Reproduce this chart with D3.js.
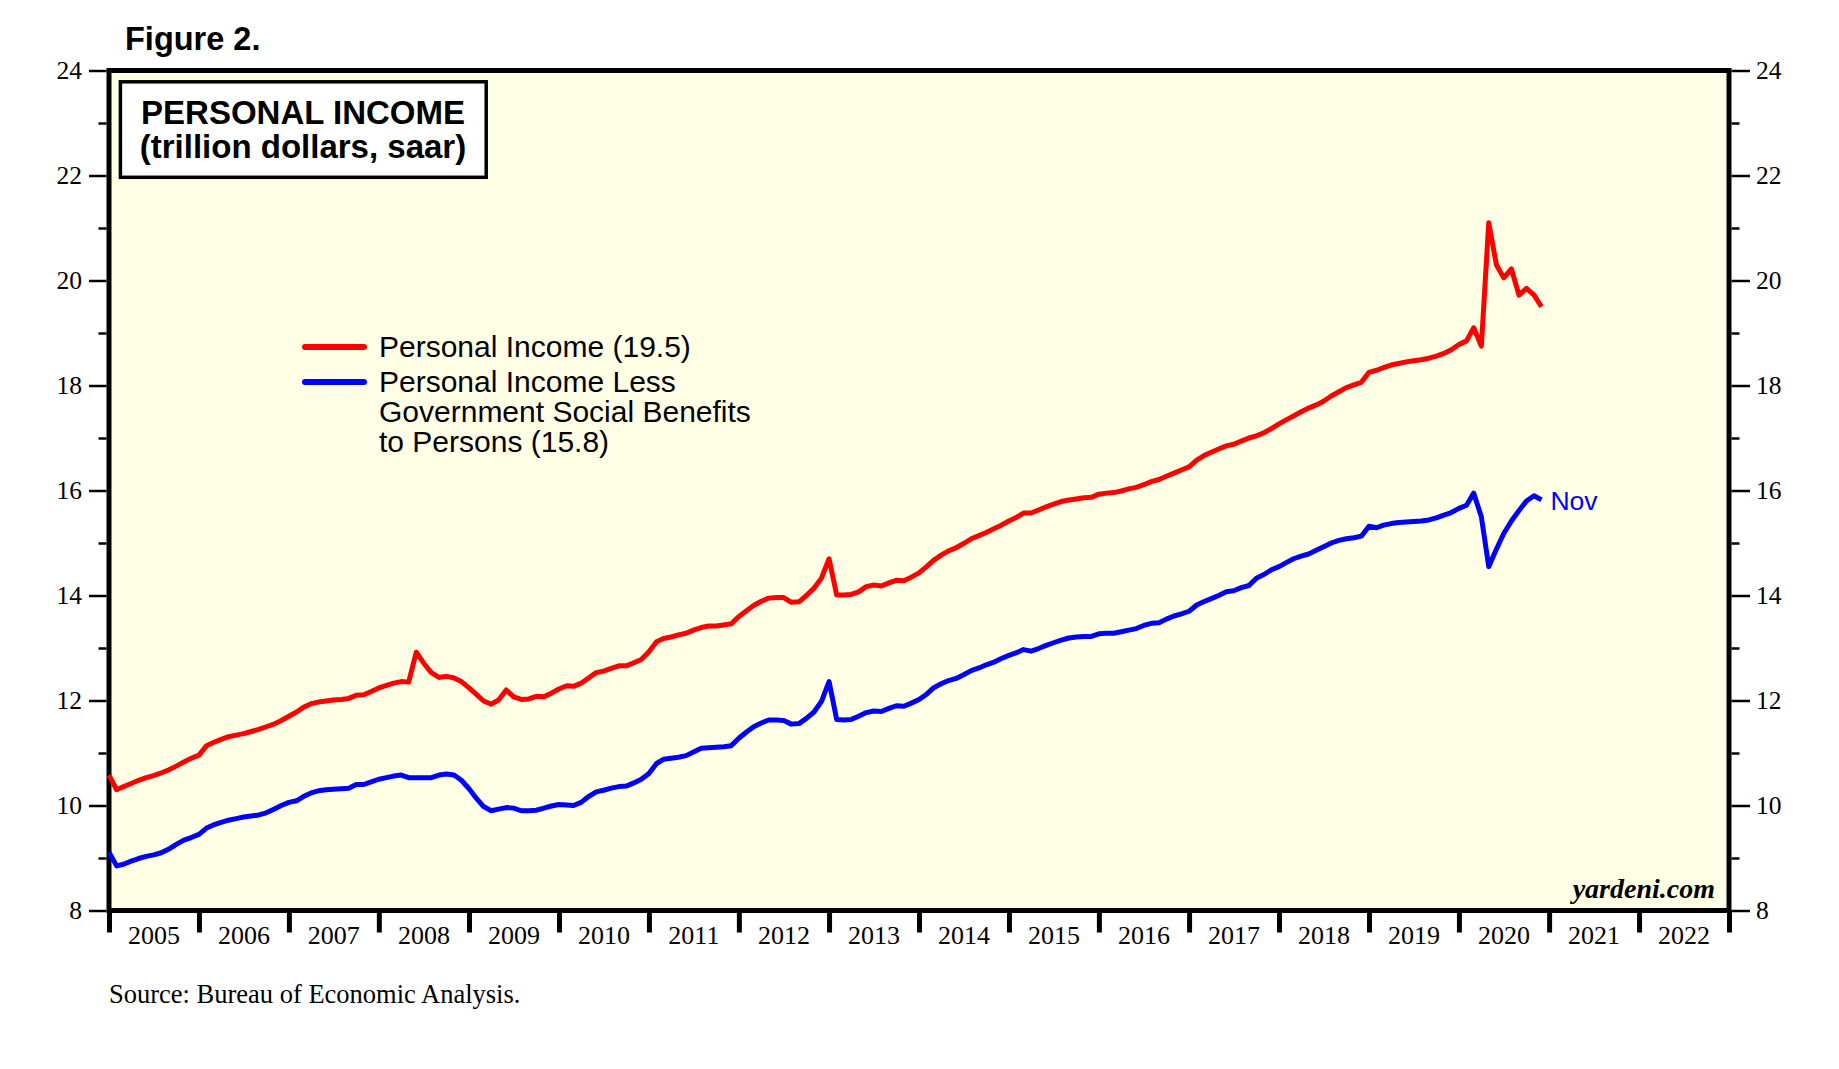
<!DOCTYPE html>
<html>
<head>
<meta charset="utf-8">
<script src="https://cdn.jsdelivr.net/npm/d3@7"></script>
<style>
body { margin: 0; background: #fff; }
svg { display: block; }
.sans { font-family: "Liberation Sans", Arial, sans-serif; }
.serif { font-family: "Liberation Serif", "Times New Roman", serif; }
</style>
</head>
<body>
<div id="chart"></div>
<script>
// monthly values, Dec 2004 .. Nov 2020 (trillion dollars, saar)
var firstMonth = new Date(2004, 11, 1);

var personalIncome = [
    10.58, 10.30, 10.36, 10.42, 10.48, 10.53, 10.57, 10.62, 10.68, 10.75, 10.83, 10.90, 10.96,
    11.14, 11.20, 11.26, 11.31, 11.34, 11.37, 11.41, 11.45, 11.50, 11.55, 11.62, 11.70,
    11.78, 11.87, 11.94, 11.97, 11.99, 12.01, 12.02, 12.04, 12.10, 12.11, 12.17, 12.24,
    12.29, 12.33, 12.36, 12.35, 12.92, 12.71, 12.53, 12.44, 12.46, 12.43, 12.36, 12.24,
    12.11, 11.99, 11.93, 12.01, 12.20, 12.07, 12.02, 12.03, 12.08, 12.07, 12.14, 12.22,
    12.28, 12.27, 12.33, 12.43, 12.53, 12.56, 12.61, 12.66, 12.66, 12.72, 12.78, 12.93,
    13.12, 13.18, 13.21, 13.25, 13.28, 13.34, 13.39, 13.42, 13.42, 13.44, 13.46, 13.60,
    13.71, 13.81, 13.89, 13.95, 13.96, 13.96, 13.87, 13.88, 14.00, 14.14, 14.33, 14.70,
    14.01, 14.01, 14.02, 14.07, 14.17, 14.20, 14.18, 14.24, 14.29, 14.28, 14.35, 14.43,
    14.55, 14.67, 14.77, 14.85, 14.91, 14.99, 15.08, 15.14, 15.20, 15.27, 15.34, 15.42,
    15.49, 15.57, 15.57, 15.63, 15.69, 15.74, 15.79, 15.82, 15.84, 15.86, 15.87, 15.93,
    15.95, 15.96, 15.99, 16.03, 16.06, 16.11, 16.17, 16.21, 16.27, 16.33, 16.39, 16.45,
    16.58, 16.66, 16.73, 16.79, 16.85, 16.88, 16.94, 17.00, 17.04, 17.10, 17.18, 17.27,
    17.35, 17.42, 17.50, 17.57, 17.63, 17.70, 17.80, 17.88, 17.96, 18.01, 18.06, 18.25,
    18.29, 18.34, 18.39, 18.42, 18.45, 18.47, 18.49, 18.52, 18.56, 18.61, 18.68, 18.78,
    18.85, 19.10, 18.75, 21.10, 20.30, 20.05, 20.22, 19.72, 19.85, 19.72, 19.50
];

var lessSocialBenefits = [
    9.11, 8.85, 8.88, 8.94, 8.99, 9.03, 9.06, 9.10, 9.17, 9.26, 9.34, 9.39, 9.45,
    9.57, 9.63, 9.68, 9.72, 9.75, 9.78, 9.80, 9.82, 9.86, 9.93, 10.00, 10.06,
    10.09, 10.17, 10.24, 10.28, 10.30, 10.31, 10.32, 10.33, 10.40, 10.40, 10.45, 10.50,
    10.53, 10.56, 10.58, 10.53, 10.53, 10.53, 10.53, 10.58, 10.60, 10.58, 10.48, 10.32,
    10.13, 9.98, 9.90, 9.93, 9.96, 9.95, 9.90, 9.90, 9.91, 9.95, 9.99, 10.02,
    10.01, 10.00, 10.06, 10.17, 10.26, 10.29, 10.33, 10.36, 10.37, 10.43, 10.50, 10.61,
    10.80, 10.88, 10.90, 10.92, 10.95, 11.02, 11.09, 11.10, 11.11, 11.12, 11.14, 11.28,
    11.40, 11.50, 11.57, 11.63, 11.63, 11.62, 11.55, 11.56, 11.66, 11.78, 11.98, 12.36,
    11.64, 11.63, 11.64, 11.70, 11.77, 11.80, 11.79, 11.85, 11.90, 11.89, 11.95, 12.02,
    12.12, 12.24, 12.32, 12.38, 12.42, 12.49, 12.57, 12.62, 12.68, 12.73, 12.80, 12.86,
    12.91, 12.97, 12.94, 12.99, 13.05, 13.10, 13.15, 13.19, 13.21, 13.22, 13.22, 13.27,
    13.28, 13.28, 13.31, 13.34, 13.37, 13.43, 13.47, 13.48, 13.55, 13.61, 13.65, 13.70,
    13.82, 13.88, 13.94, 14.00, 14.07, 14.09, 14.15, 14.19, 14.33, 14.40, 14.49, 14.55,
    14.63, 14.70, 14.75, 14.79, 14.86, 14.93, 15.00, 15.05, 15.08, 15.10, 15.13, 15.32,
    15.29, 15.34, 15.37, 15.39, 15.40, 15.41, 15.42, 15.44, 15.48, 15.53, 15.58, 15.66,
    15.72, 15.95, 15.50, 14.55, 14.88, 15.18, 15.42, 15.62, 15.80, 15.90, 15.82
];

var yMajorTicks = [8, 10, 12, 14, 16, 18, 20, 22, 24];
var yMinorTicks = [9, 11, 13, 15, 17, 19, 21, 23];
var yearLabels = [2005, 2006, 2007, 2008, 2009, 2010, 2011, 2012, 2013,
                  2014, 2015, 2016, 2017, 2018, 2019, 2020, 2021, 2022];

var legendItems = [
    {color: "#ff0000", lines: ["Personal Income (19.5)"]},
    {color: "#0000ff", lines: ["Personal Income Less", "Government Social Benefits", "to Persons (15.8)"]}
];

// plot frame (note: "top" is taken by window.top)
var pLeft = 109, pRight = 1729, pTop = 70.5, pBottom = 910.5;

var svg = d3.select("#chart")
    .append("svg")
    .attr("width", 1839)
    .attr("height", 1069);

var x = d3.scaleTime()
    .domain([new Date(2005, 0, 1), new Date(2023, 0, 1)])
    .range([pLeft, pRight]);

var y = d3.scaleLinear()
    .domain([8, 24])
    .range([pBottom, pTop]);

// background of plot
svg.append("rect")
    .attr("x", pLeft).attr("y", pTop)
    .attr("width", pRight - pLeft).attr("height", pBottom - pTop)
    .attr("fill", "#ffffe6");

//y axes (major + minor, both sides)
function styleAxis(g, w){
    g.select(".domain").remove();
    g.selectAll(".tick line").attr("stroke", "#000").attr("stroke-width", w);
    g.selectAll(".tick text")
        .attr("class", "serif")
        .attr("font-size", "25.5px")
        .attr("fill", "#000");
}

svg.append("g")
    .attr("transform", "translate(" + (pLeft - 2.5) + ",0)")
    .call(d3.axisLeft(y).tickValues(yMajorTicks).tickSize(17.5).tickPadding(7).tickFormat(d3.format("d")))
    .call(styleAxis, 2.5);
svg.append("g")
    .attr("transform", "translate(" + (pLeft - 2.5) + ",0)")
    .call(d3.axisLeft(y).tickValues(yMinorTicks).tickSize(8).tickFormat(""))
    .call(styleAxis, 2.5);
svg.append("g")
    .attr("transform", "translate(" + (pRight + 2.5) + ",0)")
    .call(d3.axisRight(y).tickValues(yMajorTicks).tickSize(18.5).tickPadding(6).tickFormat(d3.format("d")))
    .call(styleAxis, 2.5);
svg.append("g")
    .attr("transform", "translate(" + (pRight + 2.5) + ",0)")
    .call(d3.axisRight(y).tickValues(yMinorTicks).tickSize(8).tickFormat(""))
    .call(styleAxis, 2.5);

//x axis: year boundaries as thick ticks, labels centred in each year
var yearStarts = yearLabels.map(function(yr){ return new Date(yr, 0, 1); });
yearStarts.push(new Date(2023, 0, 1));

svg.append("g")
    .attr("transform", "translate(0," + pBottom + ")")
    .call(d3.axisBottom(x).tickValues(yearStarts).tickSize(22).tickFormat(""))
    .call(styleAxis, 5);

svg.append("g")
    .selectAll("text")
    .data(yearLabels)
    .enter()
    .append("text")
    .attr("class", "serif")
    .attr("x", function(d){ return (x(new Date(d, 0, 1)) + x(new Date(d + 1, 0, 1))) / 2; })
    .attr("y", 944)
    .attr("text-anchor", "middle")
    .attr("font-size", "26px")
    .text(function(d){ return d; });

// frame
svg.append("rect")
    .attr("x", pLeft).attr("y", pTop)
    .attr("width", pRight - pLeft).attr("height", pBottom - pTop)
    .attr("fill", "none")
    .attr("stroke", "#000")
    .attr("stroke-width", 5);

// lines: each month's value is plotted at the end of that month
function monthEnd(i){
    return d3.timeMonth.offset(firstMonth, i + 1);
}

var line = d3.line()
    .x(function(d, i){ return x(monthEnd(i)); })
    .y(function(d){ return y(d); });

svg.append("path")
    .datum(personalIncome)
    .attr("d", line)
    .attr("fill", "none")
    .attr("stroke", "#ff0000")
    .attr("stroke-width", 5)
    .attr("stroke-linejoin", "round");

svg.append("path")
    .datum(lessSocialBenefits)
    .attr("d", line)
    .attr("fill", "none")
    .attr("stroke", "#0000ff")
    .attr("stroke-width", 5)
    .attr("stroke-linejoin", "round");

// "Nov" label at the end of the blue line
var lastIdx = lessSocialBenefits.length - 1;
svg.append("text")
    .attr("class", "sans")
    .attr("x", x(monthEnd(lastIdx)) + 9)
    .attr("y", y(lessSocialBenefits[lastIdx]) + 10)
    .attr("font-size", "26.5px")
    .attr("fill", "#0000ff")
    .text("Nov");

// title box
svg.append("rect")
    .attr("x", 120.4).attr("y", 81.8)
    .attr("width", 365.8).attr("height", 95.5)
    .attr("fill", "#fff")
    .attr("stroke", "#000")
    .attr("stroke-width", 3.5);

svg.append("text")
    .attr("class", "sans")
    .attr("x", 303).attr("y", 124)
    .attr("text-anchor", "middle")
    .attr("font-size", "33px")
    .attr("font-weight", "bold")
    .text("PERSONAL INCOME");

svg.append("text")
    .attr("class", "sans")
    .attr("x", 303).attr("y", 158)
    .attr("text-anchor", "middle")
    .attr("font-size", "33px")
    .attr("font-weight", "bold")
    .text("(trillion dollars, saar)");

// legend
var legendTop = [347, 382];
legendItems.forEach(function(item, k){
    var ly = legendTop[k];
    svg.append("line")
        .attr("x1", 305).attr("x2", 364)
        .attr("y1", ly).attr("y2", ly)
        .attr("stroke", item.color)
        .attr("stroke-width", 6)
        .attr("stroke-linecap", "round");
    item.lines.forEach(function(t, j){
        svg.append("text")
            .attr("class", "sans")
            .attr("x", 379)
            .attr("y", ly + 10 + j * 30)
            .attr("font-size", "30px")
            .text(t);
    });
});

svg.append("text")
    .attr("class", "sans")
    .attr("x", 125).attr("y", 50)
    .attr("font-size", "32.5px")
    .attr("font-weight", "bold")
    .text("Figure 2.");

svg.append("text")
    .attr("class", "serif")
    .attr("x", 1715).attr("y", 898)
    .attr("text-anchor", "end")
    .attr("font-size", "28px")
    .attr("font-weight", "bold")
    .attr("font-style", "italic")
    .text("yardeni.com");

svg.append("text")
    .attr("class", "serif")
    .attr("x", 109).attr("y", 1003)
    .attr("font-size", "26.5px")
    .text("Source: Bureau of Economic Analysis.");
</script>
</body>
</html>
